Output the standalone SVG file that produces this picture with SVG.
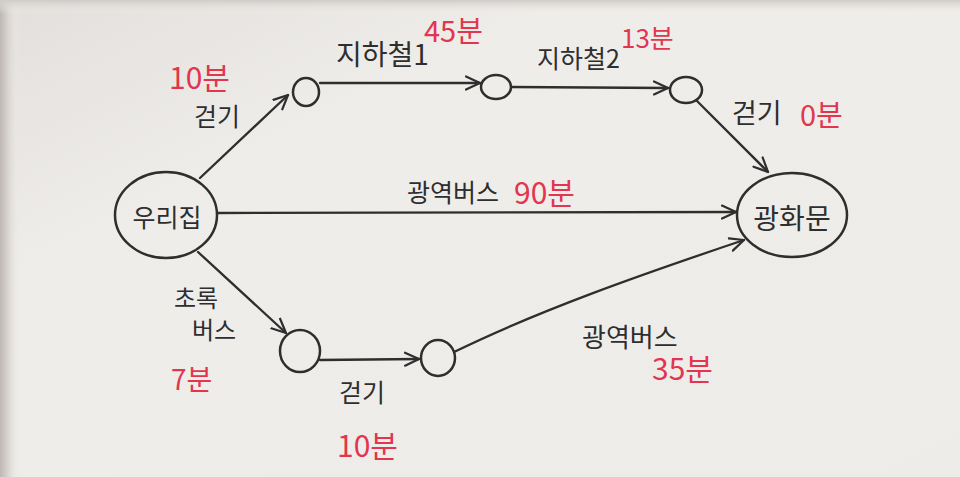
<svg xmlns="http://www.w3.org/2000/svg" width="960" height="477" viewBox="0 0 960 477">
<defs>
<linearGradient id="paper" x1="0" y1="0" x2="1" y2="1">
<stop offset="0" stop-color="#e2dfdc"/>
<stop offset="0.3" stop-color="#efedea"/>
<stop offset="1" stop-color="#eeece9"/>
</linearGradient>
<linearGradient id="edge" x1="0" y1="0" x2="1" y2="0">
<stop offset="0" stop-color="#bdb8b3"/>
<stop offset="0.4" stop-color="#d8d4d0"/>
<stop offset="1" stop-color="#efedea" stop-opacity="0"/>
</linearGradient>
<linearGradient id="topedge" x1="0" y1="0" x2="0" y2="1">
<stop offset="0" stop-color="#cfcbc7"/>
<stop offset="1" stop-color="#efedea" stop-opacity="0"/>
</linearGradient>
<marker id="arr" viewBox="0 0 16 16" refX="15" refY="8" markerWidth="16" markerHeight="16" markerUnits="userSpaceOnUse" orient="auto">
<path d="M1,1.5 L15,8 L1,14.5" fill="none" stroke="#2e2e2e" stroke-width="2.2" stroke-linecap="round" stroke-linejoin="round"/>
</marker>
<style>
.node{fill:none;stroke:#2e2e2e;stroke-width:2.5}
.edge{fill:none;stroke:#2e2e2e;stroke-width:2.3;stroke-linecap:round;marker-end:url(#arr)}
.lbl{font-family:"Noto Sans CJK KR","Noto Sans",sans-serif;fill:#2e2e2e}
.red{font-family:"Noto Sans CJK KR","Noto Sans",sans-serif;fill:#e2354e}
</style>
</defs>
<rect width="960" height="477" fill="url(#paper)"/>
<rect width="20" height="477" fill="url(#edge)"/>
<rect width="960" height="14" fill="url(#topedge)"/>

<g id="connectors">
<path class="edge" d="M200,178 L288,95"/>
<path class="edge" d="M320,83 L480,83"/>
<path class="edge" d="M511,87 L668,88"/>
<path class="edge" d="M697,101 L768,172"/>
<path class="edge" d="M218,213 L736,212"/>
<path class="edge" d="M198,252 L286,333"/>
<path class="edge" d="M320,360 L419,359"/>
<path class="edge" d="M454,352 C540,310 640,275 744,240"/>
</g>

<g id="label-walk1">
<text class="red" x="169" y="89" font-size="30">10분</text>
<text class="lbl" x="194" y="126" font-size="25">걷기</text>
</g>
<g id="label-sub1">
<text class="lbl" x="336" y="65" font-size="28">지하철1</text>
<text class="red" x="424" y="42" font-size="29">45분</text>
</g>
<g id="label-sub2">
<text class="lbl" x="537" y="68" font-size="25">지하철2</text>
<text class="red" x="621" y="48" font-size="26">13분</text>
</g>
<g id="label-walk2">
<text class="lbl" x="732" y="123" font-size="27">걷기</text>
<text class="red" x="800" y="126" font-size="29">0분</text>
</g>
<g id="label-bus90">
<text class="lbl" x="407" y="202" font-size="25">광역버스</text>
<text class="red" x="514" y="204" font-size="30">90분</text>
</g>
<g id="label-green">
<text class="lbl" x="174" y="307" font-size="24">초록</text>
<text class="lbl" x="192" y="339" font-size="24">버스</text>
<text class="red" x="171" y="390" font-size="28">7분</text>
</g>
<g id="label-walk3">
<text class="lbl" x="339" y="402" font-size="25">걷기</text>
<text class="red" x="337" y="457" font-size="30">10분</text>
</g>
<g id="label-bus35">
<text class="lbl" x="582" y="347" font-size="26">광역버스</text>
<text class="red" x="652" y="380" font-size="30">35분</text>
</g>

<g id="node-home">
<ellipse class="node" cx="166" cy="215" rx="51" ry="43"/>
<text class="lbl" x="167" y="227" font-size="25" text-anchor="middle">우리집</text>
</g>
<g id="node-gwanghwamun">
<ellipse class="node" cx="792" cy="215" rx="55" ry="42"/>
<text class="lbl" x="792" y="229" font-size="28" text-anchor="middle">광화문</text>
</g>
<g id="node-a"><ellipse class="node" cx="306" cy="92" rx="13" ry="14"/></g>
<g id="node-b"><ellipse class="node" cx="496" cy="87" rx="15" ry="12"/></g>
<g id="node-c"><ellipse class="node" cx="686" cy="90" rx="16" ry="13"/></g>
<g id="node-d"><ellipse class="node" cx="300" cy="351" rx="20" ry="21"/></g>
<g id="node-e"><ellipse class="node" cx="438" cy="358" rx="17" ry="18"/></g>
</svg>
